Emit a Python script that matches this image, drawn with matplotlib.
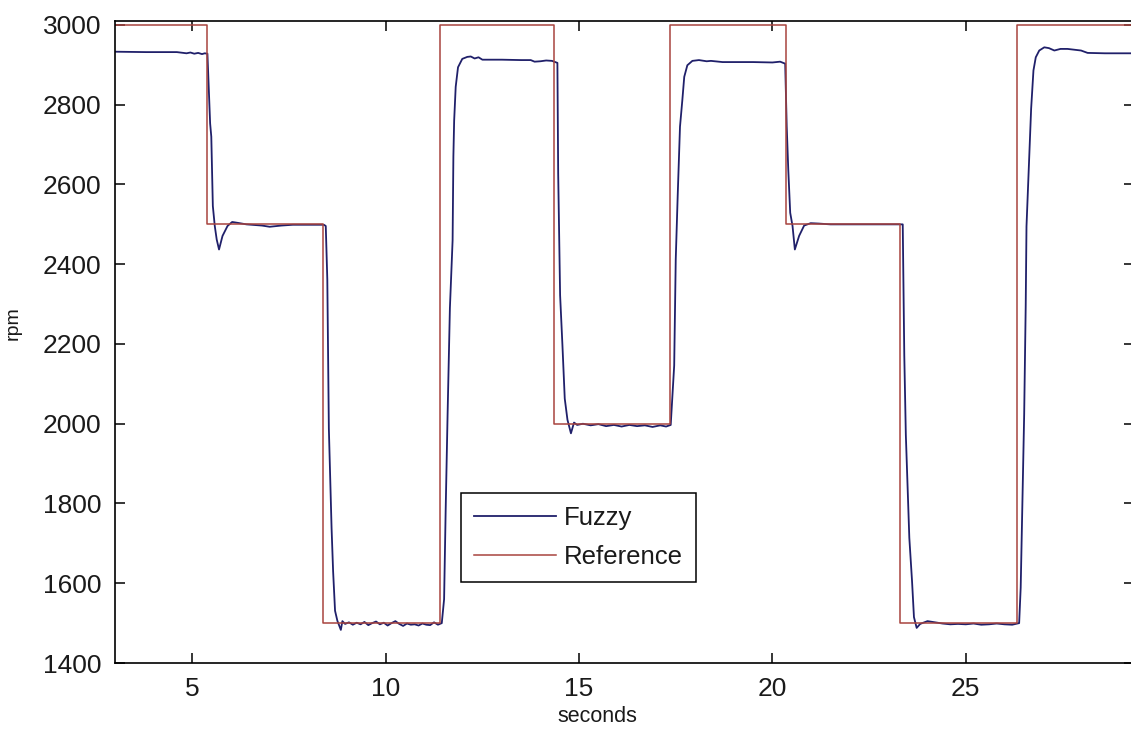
import matplotlib
matplotlib.use("Agg")
import matplotlib.pyplot as plt
from matplotlib import font_manager as fm

# Prefer a narrow sans face; fall back to Liberation Sans
installed = {f.name for f in fm.fontManager.ttflist}
if 'Liberation Sans Narrow' in installed:
    FAMILY, SCALE = 'Liberation Sans Narrow', 1.17
else:
    FAMILY, SCALE = 'Liberation Sans', 1.0
plt.rcParams['font.family'] = [FAMILY, 'DejaVu Sans']

# Reference speed set-points (rpm) and the times they switch (s)
ref_t = [3.0, 5.38, 8.39, 11.40, 14.35, 17.34, 20.34, 23.31, 26.32, 29.35]
ref_rpm = [3000, 2500, 1500, 3000, 2000, 3000, 2500, 1500, 3000, 3000]

# Measured motor speed under the fuzzy controller
fuzzy_t = [
    3.00, 3.80, 4.60, 4.85, 4.95, 5.05, 5.15, 5.25, 5.32, 5.39,
    5.40, 5.46, 5.49, 5.53, 5.58, 5.63, 5.69, 5.78, 5.91, 6.03, 6.16, 6.40,
    6.80, 7.00, 7.30, 7.60, 8.00, 8.40,
    8.45, 8.49, 8.53, 8.60, 8.64, 8.69, 8.75, 8.84, 8.88, 8.95, 9.05, 9.15,
    9.25, 9.35, 9.45, 9.55, 9.65, 9.75, 9.85, 9.95, 10.05, 10.15, 10.25,
    10.35, 10.45, 10.55, 10.65, 10.75, 10.85, 10.95, 11.05, 11.15, 11.25,
    11.35, 11.45,
    11.51, 11.55, 11.60, 11.66, 11.73, 11.75, 11.77, 11.81, 11.87, 11.98,
    12.11, 12.20, 12.30, 12.40, 12.50, 13.00, 13.50, 13.75, 13.85, 14.00,
    14.15, 14.30, 14.44,
    14.46, 14.51, 14.57, 14.63, 14.70, 14.79, 14.87, 14.95, 15.10, 15.30,
    15.50, 15.70, 15.90, 16.10, 16.30, 16.50, 16.70, 16.90, 17.10, 17.25,
    17.37,
    17.46, 17.50, 17.55, 17.61, 17.67, 17.72, 17.80, 17.93, 18.10, 18.30,
    18.41, 18.71, 19.50, 20.00, 20.20, 20.33,
    20.37, 20.41, 20.46, 20.52, 20.58, 20.69, 20.82, 20.99, 21.20, 21.50,
    22.00, 22.50, 23.00, 23.37,
    23.41, 23.45, 23.54, 23.61, 23.66, 23.73, 23.82, 24.01, 24.20, 24.40,
    24.60, 24.80, 25.00, 25.20, 25.40, 25.60, 25.80, 26.00, 26.20, 26.38,
    26.42, 26.47, 26.51, 26.55, 26.57, 26.69, 26.75, 26.81, 26.90, 27.03,
    27.15, 27.29, 27.45, 27.63, 27.98, 28.15, 28.60, 29.35,
]
fuzzy_rpm = [
    2933, 2932, 2932, 2929, 2931, 2928, 2930, 2927, 2929, 2928,
    2903, 2753, 2720, 2546, 2496, 2462, 2437, 2471, 2496, 2506, 2504, 2500,
    2497, 2494, 2497, 2499, 2499, 2499,
    2496, 2362, 1988, 1739, 1630, 1531, 1506, 1483, 1505, 1498, 1502, 1496,
    1501, 1497, 1503, 1495, 1500, 1504, 1497, 1501, 1494, 1500, 1505,
    1498, 1493, 1499, 1496, 1497, 1494, 1499, 1496, 1495, 1502,
    1496, 1500,
    1560, 1780, 2022, 2290, 2460, 2670, 2760, 2845, 2894, 2915,
    2920, 2921, 2916, 2919, 2913, 2913, 2912, 2912, 2908, 2909,
    2911, 2910, 2905,
    2628, 2322, 2197, 2063, 2010, 1976, 2003, 1997, 2000, 1996,
    1999, 1994, 1997, 1993, 1997, 1994, 1996, 1992, 1996, 1993,
    1997,
    2146, 2412, 2570, 2745, 2811, 2870, 2899, 2910, 2912, 2909,
    2910, 2907, 2907, 2906, 2908, 2903,
    2745, 2637, 2529, 2496, 2437, 2471, 2497, 2503, 2502, 2500,
    2500, 2500, 2500, 2500,
    2171, 1972, 1714, 1606, 1515, 1488, 1498, 1505, 1502, 1499,
    1497, 1498, 1497, 1499, 1496, 1497, 1499, 1497, 1496, 1500,
    1589, 1823, 2023, 2297, 2495, 2790, 2886, 2919, 2936, 2944,
    2942, 2936, 2940, 2940, 2936, 2930, 2929, 2929,
]

x_ticks = [5, 10, 15, 20, 25]
y_ticks = [1400, 1600, 1800, 2000, 2200, 2400, 2600, 2800, 3000]

W, H = 1131, 739
AX_L, AX_T, AX_W, AX_H = 115, 21, 1019, 642
fig = plt.figure(figsize=(W / 100, H / 100), dpi=100)
ax = fig.add_axes([AX_L / W, (H - AX_T - AX_H) / H, AX_W / W, AX_H / H])

ax.plot(fuzzy_t, fuzzy_rpm, color='#20206a', lw=1.3, label='Fuzzy')
ax.plot(ref_t, ref_rpm, color='#a8443e', lw=1.1, drawstyle='steps-post',
        label='Reference')

ax.set_xlim(3.0, 29.35)
ax.set_ylim(1400, 3010)
ax.set_xticks(x_ticks)
ax.set_yticks(y_ticks)
ax.tick_params(direction='in', length=7, width=1.1, top=True, right=True,
               labelsize=19 * SCALE, pad=10, labelcolor='#1a1a1a')
for s in ax.spines.values():
    s.set_linewidth(1.2)
    s.set_color('black')

ax.set_xlabel('seconds', fontsize=15.5 * SCALE, color='#1a1a1a')
ax.set_ylabel('rpm', fontsize=14 * SCALE, color='#1a1a1a')
# label anchors in axes coordinates
ax.xaxis.set_label_coords((597 - AX_L) / AX_W, -(717 - AX_T - AX_H) / AX_H,
                          transform=ax.transAxes)
ax.xaxis.label.set_va('center')
ax.yaxis.set_label_coords(-(AX_L - 13) / AX_W, 1 - (323 - AX_T) / AX_H,
                          transform=ax.transAxes)
ax.yaxis.label.set_va('center')

leg = ax.legend(loc='upper left', bbox_to_anchor=(461 / W, (H - 493) / H),
                bbox_transform=fig.transFigure, fontsize=18.5 * SCALE,
                frameon=True, fancybox=False, framealpha=1,
                edgecolor='black', handlelength=3.2, handletextpad=0.3,
                borderpad=0.5, labelspacing=0.6, borderaxespad=0)
leg.get_frame().set_linewidth(1.1)
for t in leg.get_texts():
    t.set_color('#1a1a1a')

fig.savefig('out.png', dpi=100)
